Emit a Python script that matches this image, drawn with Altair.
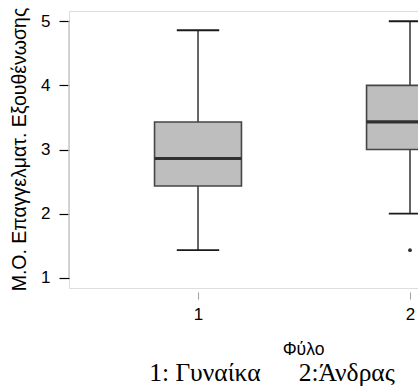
import altair as alt
import pandas as pd

# --- data ---
groups = [1, 2]
lower_whisker = [1.43, 2.0]
q1 = [2.43, 3.0]
median = [2.86, 3.43]
q3 = [3.43, 4.0]
upper_whisker = [4.86, 5.0]
outlier_group = [2]
outlier_value = [1.43]
y_ticks = [1, 2, 3, 4, 5]
x_ticks = [1, 2]
y_title = "Μ.Ο. Επαγγελματ. Εξουθένωσης"
x_title = "Φύλο"
note = ["1: Γυναίκα\u00a0\u00a0\u00a0\u00a0\u00a0\u00a02:Άνδρας"]

BOX_HALF = 0.205
CAP_HALF = 0.1
FONT = "Liberation Sans"

df = pd.DataFrame({
    "g": groups, "lo": lower_whisker, "q1": q1, "med": median,
    "q3": q3, "hi": upper_whisker,
})
out_df = pd.DataFrame({"g": outlier_group, "v": outlier_value})
axis_df = pd.DataFrame({"a": [min(y_ticks)], "b": [max(y_ticks)]})
note_df = pd.DataFrame({"t": note})

xs = alt.Scale(domain=[0.3915, 2.0377], nice=False, zero=False)
ys = alt.Scale(domain=[0.84, 5.16], nice=False, zero=False)

x_axis = alt.Axis(values=x_ticks, format="d", domain=False, grid=False,
                  offset=4, tickSize=7, tickColor="#a0a0a0", tickWidth=1,
                  labelFont=FONT, labelFontSize=17, labelColor="black",
                  labelPadding=7, title=x_title, titleFont=FONT,
                  titleFontSize=17.5, titleFontWeight="normal",
                  titleColor="black", titleX=234, titleY=62,
                  titleAnchor="start", titleAlign="center",
                  titleBaseline="alphabetic")
y_axis = alt.Axis(values=y_ticks, format="d", domain=False, grid=False,
                  tickSize=10, tickColor="black", tickWidth=1.2,
                  labelFont=FONT, labelFontSize=17, labelColor="black",
                  labelPadding=9, title=y_title, titleFont=FONT,
                  titleFontSize=19.5, titleFontWeight="normal",
                  titleColor="black", titleX=-43.5, titleY=138,
                  titleAngle=-90, titleAlign="center",
                  titleBaseline="alphabetic")

base = alt.Chart(df).transform_calculate(
    bl="datum.g - %f" % BOX_HALF, br="datum.g + %f" % BOX_HALF,
    cl="datum.g - %f" % CAP_HALF, cr="datum.g + %f" % CAP_HALF,
)

whisk_lo = base.mark_rule(color="#404040", strokeWidth=1.6, clip=True).encode(
    x=alt.X("g:Q", scale=xs, axis=x_axis),
    y=alt.Y("lo:Q", scale=ys, axis=y_axis),
    y2="q1:Q",
)
whisk_hi = base.mark_rule(color="#404040", strokeWidth=1.6, clip=True).encode(
    x=alt.X("g:Q", scale=xs), y=alt.Y("q3:Q", scale=ys), y2="hi:Q",
)
box = base.mark_rect(fill="#bebebe", stroke="#454545", strokeWidth=1.6,
                     clip=True).encode(
    x=alt.X("bl:Q", scale=xs), x2="br:Q",
    y=alt.Y("q1:Q", scale=ys), y2="q3:Q",
)
med = base.mark_rule(color="#303030", strokeWidth=3.2, clip=True).encode(
    x=alt.X("bl:Q", scale=xs), x2="br:Q", y=alt.Y("med:Q", scale=ys),
)
cap_lo = base.mark_rule(color="#1a1a1a", strokeWidth=1.8, clip=True).encode(
    x=alt.X("cl:Q", scale=xs), x2="cr:Q", y=alt.Y("lo:Q", scale=ys),
)
cap_hi = base.mark_rule(color="#1a1a1a", strokeWidth=1.8, clip=True).encode(
    x=alt.X("cl:Q", scale=xs), x2="cr:Q", y=alt.Y("hi:Q", scale=ys),
)
outl = alt.Chart(out_df).mark_circle(color="#303030", size=14, opacity=1,
                                     clip=True).encode(
    x=alt.X("g:Q", scale=xs), y=alt.Y("v:Q", scale=ys),
)
yline = alt.Chart(axis_df).mark_rule(color="#c8c8c8", strokeWidth=1.5).encode(
    x=alt.value(0), y=alt.Y("a:Q", scale=ys), y2="b:Q",
)
note_txt = alt.Chart(note_df).mark_text(
    font="Liberation Serif", fontSize=25.5, color="black", align="center",
    baseline="alphabetic",
).encode(text="t:N", x=alt.value(203), y=alt.value(93 + 277))

chart = alt.layer(
    yline, whisk_lo, whisk_hi, box, med, cap_lo, cap_hi, outl, note_txt
).properties(
    width=349, height=277,
    padding={"left": 69, "top": 11, "right": 0, "bottom": 104},
    autosize=alt.AutoSizeParams(type="none"),
).configure_view(stroke=None).configure(background="white")

chart.save("out.html", embed_options={"renderer": "svg", "actions": False})
